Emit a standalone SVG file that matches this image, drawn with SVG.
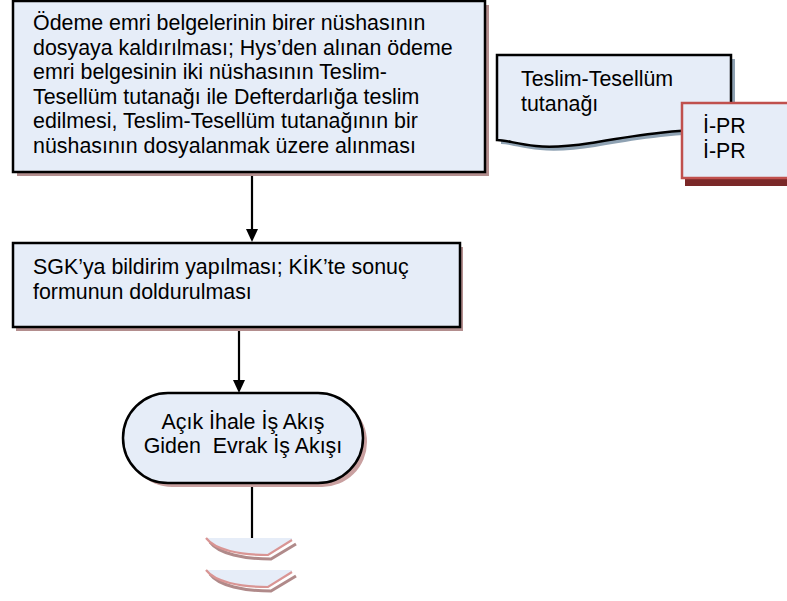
<svg xmlns="http://www.w3.org/2000/svg" width="787" height="601" viewBox="0 0 787 601">
<style>
text{font-family:"Liberation Sans",Arial,sans-serif;font-size:21.4px;fill:#000}
.box{fill:#E6EDF8;stroke:#000;stroke-width:2.5}
.sh{fill:#B38E8E}
.ln{stroke:#000;stroke-width:2.2;fill:none}
.oc{fill:#E6EDF8}
.ocs{fill:none;stroke:#B08A8A;stroke-width:3}
.ocl{fill:none;stroke:#D99594;stroke-width:2.2}
</style>
<rect width="787" height="601" fill="#fff"/>
<g id="connectors">
<line class="ln" x1="252" y1="174" x2="252" y2="229"/>
<path d="M246,229 L258,229 L252,242 Z" fill="#000"/>
<line class="ln" x1="239" y1="329" x2="239" y2="380"/>
<path d="M233,380 L245,380 L239,393 Z" fill="#000"/>
<line class="ln" x1="252" y1="485" x2="252" y2="538"/>
</g>
<g id="n1">
<rect class="sh" x="17" y="5" width="472" height="171"/>
<rect class="box" x="13" y="1" width="472" height="171"/>
<text x="33" y="30">Ödeme emri belgelerinin birer nüshasının</text>
<text x="33" y="54.5">dosyaya kaldırılması; Hys’den alınan ödeme</text>
<text x="33" y="79">emri belgesinin iki nüshasının Teslim-</text>
<text x="33" y="103.5">Tesellüm tutanağı ile Defterdarlığa teslim</text>
<text x="33" y="128">edilmesi, Teslim-Tesellüm tutanağının bir</text>
<text x="33" y="152.5">nüshasının dosyalanmak üzere alınması</text>
</g>
<g id="n2">
<path d="M501,59 H735 V136 C690,130 630,141 595,147 C575,150 555,152 540,150 C520,148 510,144 501,144 Z" fill="#8FA2B3"/>
<path d="M497,55 H731 V132 C686,126 626,137 591,143 C571,146 551,148 536,146 C516,144 506,140 497,140 Z" fill="#E6EDF8" stroke="#000" stroke-width="2.5"/>
<text x="521" y="86">Teslim-Tesellüm</text>
<text x="521" y="111">tutanağı</text>
</g>
<g id="n3">
<rect x="685" y="107" width="110" height="79" fill="#7A2828"/>
<rect x="682" y="103" width="110" height="75" fill="#E6EDF8" stroke="#C0504D" stroke-width="2.5"/>
<text x="703" y="133">İ-PR</text>
<text x="703" y="158">İ-PR</text>
</g>
<g id="n4">
<rect x="16" y="247" width="447" height="84" class="sh"/>
<rect class="box" x="13" y="243" width="447" height="84"/>
<text x="33" y="274">SGK’ya bildirim yapılması; KİK’te sonuç</text>
<text x="33" y="299">formunun doldurulması</text>
</g>
<g id="n5">
<rect x="127" y="397" width="240" height="90" rx="45" ry="45" fill="#C9A0A0"/>
<rect class="box" x="123" y="393" width="240" height="90" rx="45" ry="45"/>
<text x="243" y="429" text-anchor="middle">Açık İhale İş Akış</text>
<text x="243" y="453" text-anchor="middle" xml:space="preserve">Giden  Evrak İş Akışı</text>
</g>
<g id="n6">
<path class="ocs" d="M210,542 C219,554 244,559 271,559 L296,544"/>
<path class="oc" d="M206,538 H292 V540 L268,555 C240,555 215,550 206,538 Z"/>
<path class="ocl" d="M206,538 C215,550 240,555 268,555 L292,540"/>
</g>
<g id="n7">
<path class="ocs" d="M210,574 C219,586 244,591 271,591 L296,576"/>
<path class="oc" d="M206,570 H292 V572 L268,587 C240,587 215,582 206,570 Z"/>
<path class="ocl" d="M206,570 C215,582 240,587 268,587 L292,572"/>
</g>
</svg>
